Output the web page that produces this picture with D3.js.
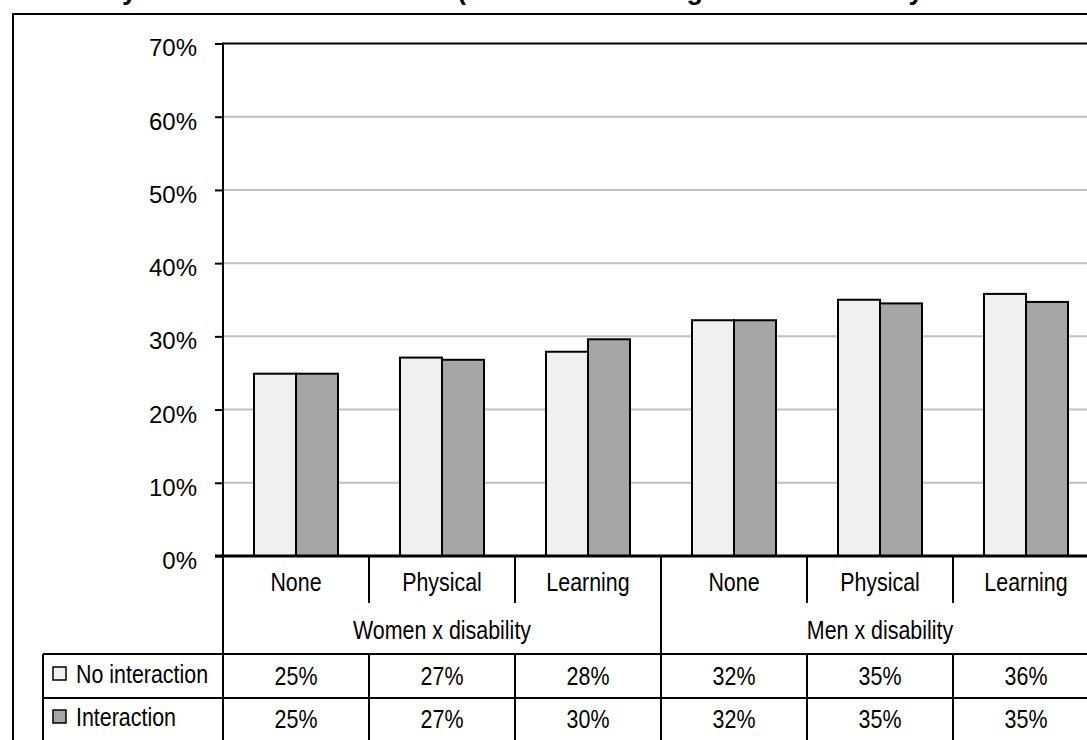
<!DOCTYPE html>
<html><head><meta charset="utf-8">
<script src="https://cdn.jsdelivr.net/npm/d3@7/dist/d3.min.js"></script>
<style>
html,body{margin:0;padding:0;background:#fff;}
svg{display:block;}
.narrow{font-family:"Liberation Sans Narrow","Liberation Sans",Arial,sans-serif;}
</style></head>
<body>
<svg id="chart" width="1087" height="740"></svg>
<script>
const titleParts = ["Probability of full-time work", " (with and without gender x disability interaction term)"];
const categories = ["None","Physical","Learning","None","Physical","Learning"];
const groups = ["Women x disability","Men x disability"];
const seriesNames = ["No interaction","Interaction"];
const noInteraction = [0.249, 0.271, 0.279, 0.322, 0.350, 0.358];
const interaction   = [0.249, 0.268, 0.296, 0.322, 0.345, 0.347];
const tableNoInteraction = ["25%","27%","28%","32%","35%","36%"];
const tableInteraction   = ["25%","27%","30%","32%","35%","35%"];
const yTicks = [0,0.1,0.2,0.3,0.4,0.5,0.6,0.7];
const colors = ["#f0f0f0","#a6a6a6"];

(function(){
const svg = d3.select("#chart");
const pLeft = 223, pRight = 1099, pTop = 43.5, pBottom = 556;
const catRowBottom = 603, groupRowBottom = 654, row1Bottom = 698, tableBottom = 760;
const legendLeft = 43;
const NX = 0.84, FS = 25.5;

function narrowText(g, tx, ty, txt, anchor){
  return g.append("text").attr("class","narrow")
    .attr("transform",`translate(${tx},${ty}) scale(${NX},1)`)
    .attr("text-anchor",anchor||"middle").attr("font-size",FS).attr("fill","#000").text(txt);
}

// outer border
svg.append("rect").attr("x",13).attr("y",14).attr("width",1200).attr("height",800)
  .attr("fill","none").attr("stroke","#000").attr("stroke-width",2);

// title (clipped at the top edge, as in the reference)
const title = svg.append("text").attr("y",-1.5)
  .attr("font-family","'Liberation Sans',Arial,sans-serif").attr("font-weight","bold")
  .attr("font-size",27).attr("fill","#000");
const t1 = title.append("tspan").attr("x",0).text(titleParts[0]);
const t2 = title.append("tspan").text(titleParts[1]);
const yIdx = titleParts[0].indexOf("y");
const yPos = title.node().getStartPositionOfChar(yIdx).x;
t1.attr("x", 122 - yPos);
const pIdx = titleParts[0].length + titleParts[1].indexOf("(");
const pPos = title.node().getStartPositionOfChar(pIdx).x;
const spaceW = pPos - t2.node().getStartPositionOfChar(0).x;
t2.attr("x", 457 - spaceW);

const x = d3.scaleBand().domain(d3.range(categories.length)).range([pLeft,pRight]).padding(0);
const xs = d3.scaleBand().domain([0,1]).range([0,x.bandwidth()]).paddingInner(0).paddingOuter(0.738);
const y = d3.scaleLinear().domain([0,0.7]).range([pBottom,pTop]);

// gridlines
svg.append("g").selectAll("line").data(yTicks.slice(1,-1)).join("line")
  .attr("x1",pLeft).attr("x2",pRight).attr("y1",d=>y(d)).attr("y2",d=>y(d))
  .attr("stroke","#c0c0c0").attr("stroke-width",2);
// plot top border
svg.append("line").attr("x1",pLeft).attr("x2",pRight).attr("y1",y(0.7)).attr("y2",y(0.7))
  .attr("stroke","#000").attr("stroke-width",2);

// y axis
const yAxis = d3.axisLeft(y).tickValues(yTicks).tickFormat(d3.format(".0%")).tickSize(8).tickPadding(18);
const ya = svg.append("g").attr("transform",`translate(${pLeft},0)`).call(yAxis);
ya.select(".domain").remove();
ya.selectAll(".tick line").attr("stroke","#000").attr("stroke-width",2);
ya.selectAll(".tick text").attr("font-family","'Liberation Sans',Arial,sans-serif")
  .attr("font-size",24).attr("fill","#000").attr("dy","0.52em");

// bars
const series = [noInteraction, interaction];
series.forEach((vals,s)=>{
  svg.append("g").selectAll("rect").data(vals).join("rect")
    .attr("x",(d,i)=>x(i)+xs(s)).attr("width",xs.bandwidth())
    .attr("y",d=>y(d)).attr("height",d=>y(0)-y(d))
    .attr("fill",colors[s]).attr("stroke","#000").attr("stroke-width",2);
});

// y axis line and x axis line
svg.append("line").attr("x1",pLeft).attr("x2",pLeft).attr("y1",pTop-1).attr("y2",tableBottom)
  .attr("stroke","#000").attr("stroke-width",2);
svg.append("line").attr("x1",pLeft-8).attr("x2",pRight).attr("y1",pBottom).attr("y2",pBottom)
  .attr("stroke","#000").attr("stroke-width",3);

const tbl = svg.append("g");
// category row
categories.forEach((c,i)=> narrowText(tbl, x(i)+x.bandwidth()/2, 591, c));
// dividers between categories
svg.append("g").selectAll("line").data(d3.range(1,categories.length)).join("line")
  .attr("x1",i=>x(i)).attr("x2",i=>x(i))
  .attr("y1",pBottom).attr("y2",i=> i===3 ? tableBottom : catRowBottom)
  .attr("stroke","#000").attr("stroke-width",2);
// group labels
groups.forEach((g,gi)=> narrowText(tbl, (x(gi*3)+x(gi*3+2)+x.bandwidth())/2, 639, g));

// table row lines
[groupRowBottom,row1Bottom].forEach(yy=>{
  svg.append("line").attr("x1",legendLeft).attr("x2",pRight).attr("y1",yy).attr("y2",yy)
    .attr("stroke","#000").attr("stroke-width",2);
});
svg.append("line").attr("x1",legendLeft).attr("x2",legendLeft).attr("y1",groupRowBottom).attr("y2",tableBottom)
  .attr("stroke","#000").attr("stroke-width",2);
svg.append("g").selectAll("line").data(d3.range(1,categories.length)).join("line")
  .attr("x1",i=>x(i)).attr("x2",i=>x(i)).attr("y1",groupRowBottom).attr("y2",tableBottom)
  .attr("stroke","#000").attr("stroke-width",2);

const tableRows = [tableNoInteraction, tableInteraction];
const rowBase = [685, 728];
tableRows.forEach((row,r)=>{
  row.forEach((v,i)=> narrowText(tbl, x(i)+x.bandwidth()/2, rowBase[r], v));
  svg.append("rect").attr("x",53).attr("y",rowBase[r]-18).attr("width",13).attr("height",13)
    .attr("fill",colors[r]).attr("stroke","#000").attr("stroke-width",1.5);
  narrowText(tbl, 76, rowBase[r]-2, seriesNames[r], "start");
});
})();
</script>
</body></html>
